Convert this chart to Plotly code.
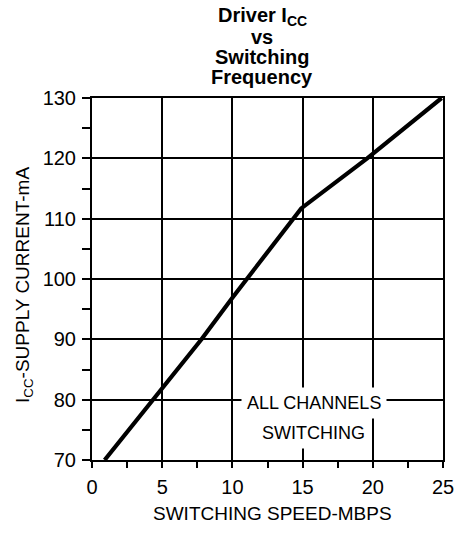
import plotly.graph_objects as go

# Data
speed_mbps = [0.9, 2.0, 4.4, 7.8, 10.0, 14.9, 19.6, 24.9]
icc_ma = [70.0, 73.2, 80.0, 90.0, 96.9, 111.7, 120.0, 130.0]

x_ticks = [0, 5, 10, 15, 20, 25]
y_ticks = [70, 80, 90, 100, 110, 120, 130]

W, H = 466, 533
ML, MR, MT, MB = 92, 13, 98, 73
PW, PH = W - ML - MR, H - MT - MB


def px(x):
    return (x - ML) / PW


def py(y):
    return (H - MB - y) / PH


FONT = "Liberation Sans, Arial, sans-serif"

fig = go.Figure()
fig.add_trace(go.Scatter(x=speed_mbps, y=icc_ma, mode="lines",
                         line=dict(color="black", width=4.2),
                         showlegend=False, hoverinfo="skip"))

axis_common = dict(showline=True, linecolor="black", linewidth=2, mirror=True,
                   showgrid=True, gridcolor="black", gridwidth=1.5,
                   zeroline=False, ticks="outside", tickcolor="black",
                   tickwidth=1.5,
                   tickfont=dict(family=FONT, size=20, color="black"))

fig.update_xaxes(range=[0, 25], tickvals=x_ticks, ticklen=6,
                 ticklabelstandoff=2,
                 minor=dict(dtick=2.5, ticks="outside", ticklen=6,
                            tickcolor="black", tickwidth=1.5, showgrid=False),
                 **axis_common)
fig.update_yaxes(range=[70, 130], tickvals=y_ticks, ticklen=8,
                 ticklabelstandoff=2,
                 minor=dict(dtick=5, ticks="outside", ticklen=8,
                            tickcolor="black", tickwidth=1.5, showgrid=False),
                 **axis_common)

ann = []
title_lines = [("Driver I<sub>CC</sub>", 17), ("vs", 37), ("Switching", 57), ("Frequency", 77)]
for txt, ypix in title_lines:
    ann.append(dict(text="<b>" + txt + "</b>", x=px(267), y=py(ypix),
                    xref="paper", yref="paper", xanchor="center", yanchor="middle",
                    showarrow=False, font=dict(family=FONT, size=20, color="black")))

ann.append(dict(text="SWITCHING SPEED-MBPS", x=px(278), y=py(513),
                xref="paper", yref="paper", xanchor="center", yanchor="middle",
                showarrow=False, font=dict(family=FONT, size=19, color="black")))
ann.append(dict(text="I<sub>CC</sub>-SUPPLY CURRENT-mA", x=px(22), y=py(285),
                xref="paper", yref="paper", xanchor="center", yanchor="middle",
                textangle=-90, showarrow=False,
                font=dict(family=FONT, size=19, color="black")))
ann.append(dict(text="ALL CHANNELS", x=px(320), y=py(403),
                xref="paper", yref="paper", xanchor="center", yanchor="middle",
                showarrow=False, bgcolor="white", borderpad=5,
                font=dict(family=FONT, size=18, color="black")))
ann.append(dict(text="SWITCHING", x=px(320), y=py(433),
                xref="paper", yref="paper", xanchor="center", yanchor="middle",
                showarrow=False, bgcolor="white", borderpad=5,
                font=dict(family=FONT, size=18, color="black")))

fig.update_layout(width=W, height=H,
                  margin=dict(l=ML, r=MR, t=MT, b=MB),
                  paper_bgcolor="white", plot_bgcolor="white",
                  annotations=ann)

fig.write_html("out.html", config={"displayModeBar": False},
               post_script="document.body.style.margin='0';document.body.style.overflow='hidden';")
